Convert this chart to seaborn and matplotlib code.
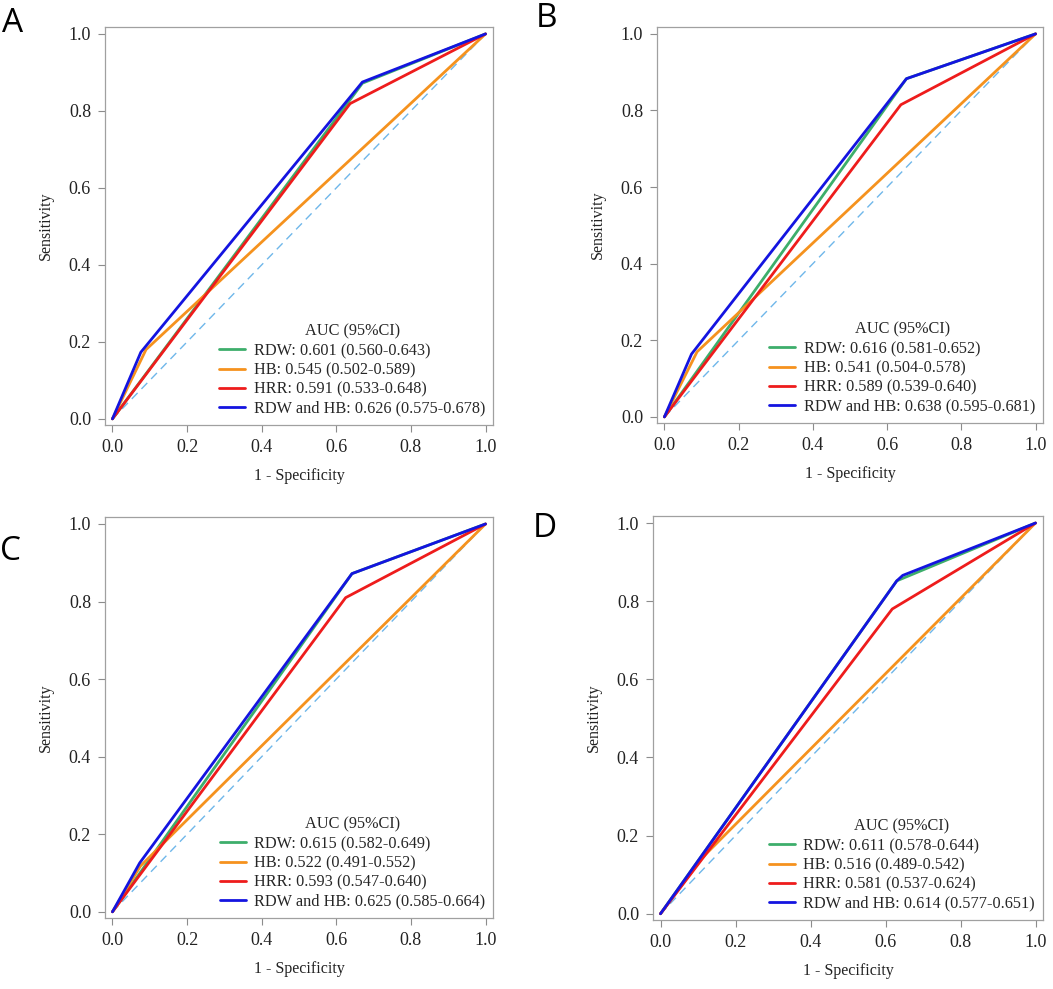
import pandas as pd
import matplotlib
matplotlib.use("Agg")
import matplotlib.pyplot as plt
import seaborn as sns

# ROC curve points (false positive rate, true positive rate)
series = ["RDW", "HB", "HRR", "RDW and HB"]
colors = ["#3DAE6B", "#F5921E", "#EE1C1C", "#1414E0"]

fpr_a = [[0, 0.670, 1], [0, 0.090, 1], [0, 0.637, 1], [0, 0.076, 0.670, 1]]
tpr_a = [[0, 0.872, 1], [0, 0.180, 1], [0, 0.819, 1], [0, 0.173, 0.875, 1]]
auc_a = ["0.601 (0.560-0.643)", "0.545 (0.502-0.589)", "0.591 (0.533-0.648)", "0.626 (0.575-0.678)"]

fpr_b = [[0, 0.652, 1], [0, 0.088, 1], [0, 0.637, 1], [0, 0.073, 0.652, 1]]
tpr_b = [[0, 0.883, 1], [0, 0.170, 1], [0, 0.815, 1], [0, 0.164, 0.883, 1]]
auc_b = ["0.616 (0.581-0.652)", "0.541 (0.504-0.578)", "0.589 (0.539-0.640)", "0.638 (0.595-0.681)"]

fpr_c = [[0, 0.642, 1], [0, 0.075, 1], [0, 0.625, 1], [0, 0.073, 0.642, 1]]
tpr_c = [[0, 0.872, 1], [0, 0.118, 1], [0, 0.810, 1], [0, 0.126, 0.872, 1]]
auc_c = ["0.615 (0.582-0.649)", "0.522 (0.491-0.552)", "0.593 (0.547-0.640)", "0.625 (0.585-0.664)"]

fpr_d = [[0, 0.630, 1], [0, 0.110, 1], [0, 0.618, 1], [0, 0.630, 0.646, 1]]
tpr_d = [[0, 0.852, 1], [0, 0.142, 1], [0, 0.780, 1], [0, 0.852, 0.866, 1]]
auc_d = ["0.611 (0.578-0.644)", "0.516 (0.489-0.542)", "0.581 (0.537-0.624)", "0.614 (0.577-0.651)"]

diag = [0, 1]
ticks = [0.0, 0.2, 0.4, 0.6, 0.8, 1.0]

sns.set_theme(style="white")
plt.rcParams["font.family"] = ["Liberation Serif", "DejaVu Serif"]

fig = plt.figure(figsize=(10.53, 9.89), dpi=100)
W, H = 1053, 989
# axes boxes in pixels: left, top, right, bottom
boxes = {
    "A": (105, 27, 493, 425),
    "B": (657, 27, 1043, 423),
    "C": (105, 517, 493, 918),
    "D": (653, 516, 1043, 920),
}
# panel letter positions (left, baseline) in pixels
letters = {"A": (2, 32), "B": (536, 27), "C": (0, 560), "D": (533, 537)}
panel_data = {
    "A": (fpr_a, tpr_a, auc_a),
    "B": (fpr_b, tpr_b, auc_b),
    "C": (fpr_c, tpr_c, auc_c),
    "D": (fpr_d, tpr_d, auc_d),
}

for key, (fprs, tprs, aucs) in panel_data.items():
    l, t, r, b = boxes[key]
    ax = fig.add_axes([l / W, 1 - b / H, (r - l) / W, (b - t) / H])

    labels = [f"{s}: {a}" for s, a in zip(series, aucs)]
    rows = []
    for lab, xs, ys in zip(labels, fprs, tprs):
        for i, (x, y) in enumerate(zip(xs, ys)):
            rows.append({"label": lab, "order": i, "fpr": x, "tpr": y})
    df = pd.DataFrame(rows)

    ax.plot(diag, diag, color="#6FB7EA", lw=1.0, ls=(0, (6, 4)), zorder=1)
    sns.lineplot(data=df, x="fpr", y="tpr", hue="label", hue_order=labels,
                 palette=colors, sort=False, estimator=None, lw=2.0, ax=ax)

    handles, labs = ax.get_legend_handles_labels()
    leg = ax.legend(handles, labs, title="AUC (95%CI)", loc="lower right",
                    frameon=False, fontsize=11.7, title_fontsize=11.7,
                    handlelength=1.6, handletextpad=0.5, labelspacing=0.2,
                    borderaxespad=0.1)

    ax.set_xlim(-0.02, 1.02)
    ax.set_ylim(-0.016, 1.018)
    ax.set_xticks(ticks)
    ax.set_yticks(ticks)
    ax.set_xticklabels([f"{v:.1f}" for v in ticks])
    ax.set_yticklabels([f"{v:.1f}" for v in ticks])
    ax.tick_params(axis="both", direction="out", length=5, width=0.8,
                   color="#8C8C8C", labelsize=13, labelcolor="#222222", pad=5,
                   bottom=True, left=True)
    for sp in ax.spines.values():
        sp.set_color("#A0A0A0")
        sp.set_linewidth(0.9)
    ax.set_xlabel("1 - Specificity", fontsize=11.5, labelpad=9, color="#222222")
    ax.set_ylabel("Sensitivity", fontsize=11.5, labelpad=11, color="#222222")

    lx, ly = letters[key]
    fig.text(lx / W, 1 - ly / H, key, fontsize=24, family=["Open Sans", "DejaVu Sans"],
             va="baseline", ha="left", color="black")

fig.savefig("out.png", dpi=100)
